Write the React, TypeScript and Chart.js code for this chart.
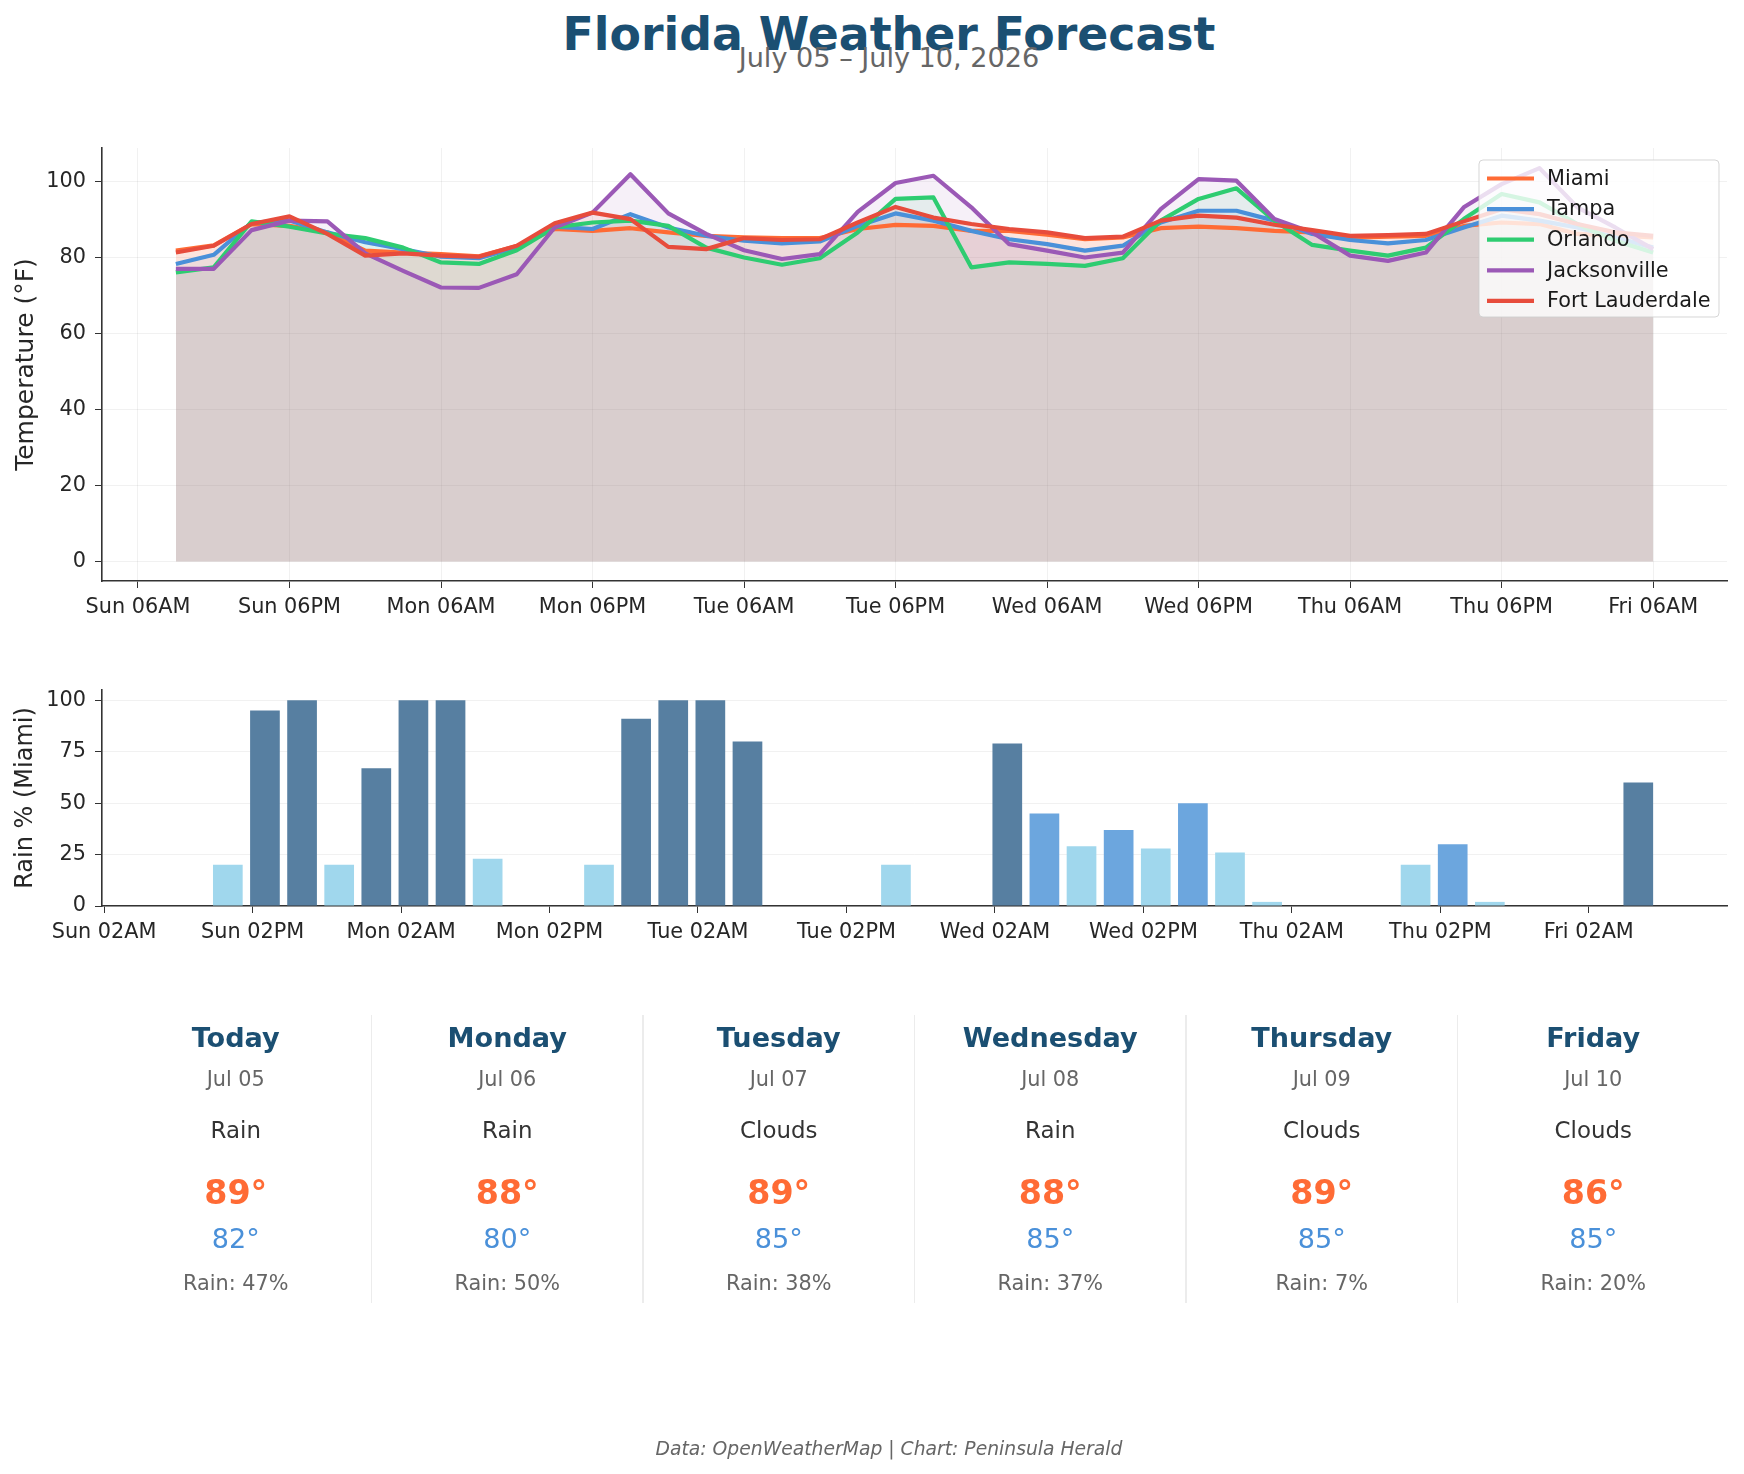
import React, { useEffect, useRef } from 'react';
import { Chart, registerables } from 'chart.js';
Chart.register(...registerables);

const FONT = '"DejaVu Sans", Verdana, sans-serif';

// hours since Sunday 00:00 for each 3-hourly forecast step
const forecastHours = [9, 12, 15, 18, 21, 24, 27, 30, 33, 36, 39, 42, 45, 48, 51, 54, 57, 60, 63, 66, 69, 72, 75, 78, 81, 84, 87, 90, 93, 96, 99, 102, 105, 108, 111, 114, 117, 120, 123, 126];

const tempTickHours = [6, 18, 30, 42, 54, 66, 78, 90, 102, 114, 126];
const tempTickLabels = ['Sun 06AM', 'Sun 06PM', 'Mon 06AM', 'Mon 06PM', 'Tue 06AM', 'Tue 06PM', 'Wed 06AM', 'Wed 06PM', 'Thu 06AM', 'Thu 06PM', 'Fri 06AM'];
const rainTickHours = [2, 14, 26, 38, 50, 62, 74, 86, 98, 110, 122];
const rainTickLabels = ['Sun 02AM', 'Sun 02PM', 'Mon 02AM', 'Mon 02PM', 'Tue 02AM', 'Tue 02PM', 'Wed 02AM', 'Wed 02PM', 'Thu 02AM', 'Thu 02PM', 'Fri 02AM'];
const tempTicks = [0, 20, 40, 60, 80, 100];
const rainTicks = [0, 25, 50, 75, 100];

const cities = ['Miami', 'Tampa', 'Orlando', 'Jacksonville', 'Fort Lauderdale'];
const cityColors = ['#FF6B35', '#4A90D9', '#2ECC71', '#9B59B6', '#E74C3C'];

const miamiTemp = [81.8, 83.2, 88.8, 88.3, 86.6, 81.8, 81.3, 80.9, 80.3, 83.0, 87.5, 87.0, 87.7, 86.6, 85.7, 85.3, 85.1, 85.1, 87.5, 88.6, 88.3, 87.0, 87.0, 86.0, 84.8, 85.3, 87.7, 88.1, 87.7, 87.0, 86.6, 85.2, 85.5, 85.7, 88.3, 89.2, 88.8, 86.2, 85.8, 85.3];
const tampaTemp = [78.3, 80.7, 89.2, 89.7, 86.6, 84.0, 82.2, 80.2, 79.8, 82.6, 88.1, 87.5, 91.4, 87.9, 85.7, 84.4, 83.7, 84.2, 88.3, 91.6, 89.7, 87.0, 84.8, 83.5, 81.8, 83.1, 89.2, 92.3, 92.3, 89.7, 86.2, 84.6, 83.7, 84.6, 87.9, 91.0, 89.7, 87.9, 85.3, 82.6];
const orlandoTemp = [76.1, 77.4, 89.5, 88.1, 86.3, 85.1, 82.6, 78.7, 78.3, 81.9, 87.9, 89.2, 89.7, 88.3, 82.6, 80.0, 78.1, 79.8, 86.6, 95.4, 95.8, 77.4, 78.7, 78.3, 77.8, 79.8, 89.7, 95.4, 98.2, 89.7, 83.3, 81.8, 80.5, 82.6, 90.1, 96.7, 94.5, 88.8, 84.4, 81.3];
const jacksonvilleTemp = [77.0, 77.0, 87.2, 89.7, 89.5, 81.1, 76.5, 72.1, 72.0, 75.6, 87.9, 91.8, 101.9, 91.6, 86.2, 81.9, 79.6, 80.9, 92.0, 99.6, 101.5, 93.2, 83.5, 81.8, 80.0, 81.3, 92.7, 100.6, 100.2, 90.1, 86.6, 80.5, 79.1, 81.3, 93.2, 99.3, 103.5, 93.2, 87.9, 82.2];
const fortLauderdaleTemp = [81.3, 83.1, 88.8, 90.8, 86.2, 80.5, 81.1, 80.5, 80.2, 83.1, 89.0, 91.8, 90.1, 82.8, 82.2, 85.1, 84.6, 84.8, 89.2, 93.3, 90.5, 88.8, 87.5, 86.6, 85.1, 85.5, 89.7, 91.0, 90.5, 88.6, 87.2, 85.7, 85.9, 86.2, 89.5, 92.7, 91.4, 88.8, 86.6, 85.7];
const cityTemps = [miamiTemp, tampaTemp, orlandoTemp, jacksonvilleTemp, fortLauderdaleTemp];

const miamiRain = [0, 20, 95, 100, 20, 67, 100, 100, 23, 0, 0, 20, 91, 100, 100, 80, 0, 0, 0, 20, 0, 0, 79, 45, 29, 37, 28, 50, 26, 2, 0, 0, 0, 20, 30, 2, 0, 0, 0, 60];

const dayNames = ['Today', 'Monday', 'Tuesday', 'Wednesday', 'Thursday', 'Friday'];
const dayDates = ['Jul 05', 'Jul 06', 'Jul 07', 'Jul 08', 'Jul 09', 'Jul 10'];
const dayConditions = ['Rain', 'Rain', 'Clouds', 'Rain', 'Clouds', 'Clouds'];
const dayHighs = [89, 88, 89, 88, 89, 86];
const dayLows = [82, 80, 85, 85, 85, 85];
const dayRain = [47, 50, 38, 37, 7, 20];

const hexToRgba = (hex: string, a: number) => {
  const n = parseInt(hex.slice(1), 16);
  return `rgba(${(n >> 16) & 255},${(n >> 8) & 255},${n & 255},${a})`;
};

const rainColor = (v: number) => (v >= 60 ? '#577FA1' : v >= 30 ? '#6CA6DE' : '#A0D7ED');

const TICK_COLOR = '#262626';
const GRID_COLOR = 'rgba(0,0,0,0.055)';
const TICK_SIZE = 20.8;
const LINE_W = 4.2;

const boxLegend = {
  id: 'boxLegend',
  afterDatasetsDraw(chart: any) {
    const { ctx, chartArea } = chart;
    const w = 240;
    const h = 157;
    const left = chartArea.right - 8 - w;
    const top = chartArea.top + 12;
    ctx.save();
    ctx.beginPath();
    const r = 4;
    ctx.moveTo(left + r, top);
    ctx.arcTo(left + w, top, left + w, top + h, r);
    ctx.arcTo(left + w, top + h, left, top + h, r);
    ctx.arcTo(left, top + h, left, top, r);
    ctx.arcTo(left, top, left + w, top, r);
    ctx.closePath();
    ctx.fillStyle = 'rgba(255,255,255,0.8)';
    ctx.fill();
    ctx.strokeStyle = 'rgba(204,204,204,0.8)';
    ctx.lineWidth = 1;
    ctx.stroke();
    cities.forEach((name, i) => {
      const y = top + 18.5 + i * 30.6;
      ctx.beginPath();
      ctx.moveTo(left + 8, y);
      ctx.lineTo(left + 55, y);
      ctx.strokeStyle = cityColors[i];
      ctx.lineWidth = LINE_W;
      ctx.stroke();
      ctx.fillStyle = '#1a1a1a';
      ctx.font = `${TICK_SIZE}px ${FONT}`;
      ctx.textBaseline = 'middle';
      ctx.textAlign = 'left';
      ctx.fillText(name, left + 68, y + 1);
    });
    ctx.restore();
  },
};

export default function App() {
  const tempRef = useRef<HTMLCanvasElement>(null);
  const rainRef = useRef<HTMLCanvasElement>(null);

  useEffect(() => {
    Chart.defaults.font.family = FONT;
    const tempChart = new Chart(tempRef.current as HTMLCanvasElement, {
      type: 'line',
      data: {
        datasets: cities.map((name, ci) => ({
          label: name,
          data: forecastHours.map((h, i) => ({ x: h, y: cityTemps[ci][i] })),
          borderColor: cityColors[ci],
          backgroundColor: hexToRgba(cityColors[ci], 0.09),
          borderWidth: LINE_W,
          pointRadius: 0,
          tension: 0,
          fill: 'origin',
          borderJoinStyle: 'round',
          order: cities.length - ci,
        })),
      },
      options: {
        animation: false,
        responsive: false,
        devicePixelRatio: 1,
        layout: { padding: { top: 28, right: 17, left: 0, bottom: 0 } },
        plugins: {
          legend: { display: false },
          tooltip: { enabled: false },
          filler: { drawTime: 'beforeDatasetsDraw' },
        },
        scales: {
          x: {
            type: 'linear',
            min: 3.15,
            max: 131.85,
            afterBuildTicks: (s: any) => {
              s.ticks = tempTickHours.map((v) => ({ value: v }));
            },
            afterFit: (s: any) => {
              s.height = 59;
            },
            ticks: {
              autoSkip: false,
              maxRotation: 0,
              padding: 7,
              color: TICK_COLOR,
              font: { size: TICK_SIZE, family: FONT },
              callback: (v: any) => tempTickLabels[tempTickHours.indexOf(Number(v))],
            },
            grid: { color: GRID_COLOR, tickColor: '#333', tickLength: 7, lineWidth: 1 },
            border: { color: '#333', width: 1.6 },
          },
          y: {
            min: -5.1,
            max: 108.8,
            afterBuildTicks: (s: any) => {
              s.ticks = tempTicks.map((v) => ({ value: v }));
            },
            afterFit: (s: any) => {
              s.width = 102;
            },
            ticks: {
              padding: 9,
              color: TICK_COLOR,
              font: { size: TICK_SIZE, family: FONT },
              callback: (v: any) => String(v),
            },
            grid: { color: GRID_COLOR, tickColor: '#333', tickLength: 7, lineWidth: 1 },
            border: { color: '#333', width: 1.6 },
            title: {
              display: true,
              text: 'Temperature (°F)',
              color: TICK_COLOR,
              font: { size: 25, family: FONT },
              padding: { top: 11, bottom: 0 },
            },
          },
        },
      },
      plugins: [boxLegend],
    } as any);

    const rainChart = new Chart(rainRef.current as HTMLCanvasElement, {
      type: 'bar',
      data: {
        datasets: [
          {
            label: 'Rain % (Miami)',
            data: forecastHours.map((h, i) => ({ x: h, y: miamiRain[i] })),
            backgroundColor: miamiRain.map(rainColor),
            borderWidth: 0,
            barPercentage: 0.8,
            categoryPercentage: 1,
          },
        ],
      },
      options: {
        animation: false,
        responsive: false,
        devicePixelRatio: 1,
        layout: { padding: { top: 30, right: 17, left: 0, bottom: 0 } },
        plugins: { legend: { display: false }, tooltip: { enabled: false } },
        scales: {
          x: {
            type: 'linear',
            offset: false,
            min: 1.83,
            max: 133.17,
            afterBuildTicks: (s: any) => {
              s.ticks = rainTickHours.map((v) => ({ value: v }));
            },
            afterFit: (s: any) => {
              s.height = 54;
            },
            ticks: {
              autoSkip: false,
              maxRotation: 0,
              padding: 7,
              color: TICK_COLOR,
              font: { size: TICK_SIZE, family: FONT },
              callback: (v: any) => rainTickLabels[rainTickHours.indexOf(Number(v))],
            },
            grid: { offset: false, drawOnChartArea: false, tickColor: '#333', tickLength: 7 },
            border: { color: '#333', width: 1.6 },
          },
          y: {
            min: 0,
            max: 105,
            afterBuildTicks: (s: any) => {
              s.ticks = rainTicks.map((v) => ({ value: v }));
            },
            afterFit: (s: any) => {
              s.width = 102;
            },
            ticks: {
              padding: 9,
              color: TICK_COLOR,
              font: { size: TICK_SIZE, family: FONT },
              callback: (v: any) => String(v),
            },
            grid: { color: GRID_COLOR, tickColor: '#333', tickLength: 7, lineWidth: 1 },
            border: { color: '#333', width: 1.6 },
            title: {
              display: true,
              text: 'Rain % (Miami)',
              color: TICK_COLOR,
              font: { size: 24, family: FONT },
              padding: { top: 11, bottom: 0 },
            },
          },
        },
      },
    } as any);

    return () => {
      tempChart.destroy();
      rainChart.destroy();
    };
  }, []);

  const colW = 271.5;
  const colLeft = 100;
  const txt = (top: number, size: number, color: string, bold = false, italic = false): React.CSSProperties => ({
    position: 'absolute',
    left: 0,
    width: '100%',
    top,
    fontSize: size,
    lineHeight: `${size}px`,
    color,
    fontWeight: bold ? 'bold' : 'normal',
    fontStyle: italic ? 'italic' : 'normal',
    textAlign: 'center',
    whiteSpace: 'nowrap',
  });

  return (
    <div
      style={{
        position: 'absolute',
        left: 0,
        top: 0,
        width: 1744,
        height: 1474,
        overflow: 'hidden',
        background: '#ffffff',
        fontFamily: FONT,
      }}
    >
      <div style={{ position: 'absolute', left: 0, width: 1778, top: 0, height: 100 }}>
        <div style={txt(12, 45.8, '#1B4F72', true)}>Florida Weather Forecast</div>
        <div style={txt(44, 27.1, '#666666')}>July 05 – July 10, 2026</div>
      </div>
      <canvas
        ref={tempRef}
        width={1744}
        height={520}
        style={{ position: 'absolute', left: 0, top: 120, width: 1744, height: 520 }}
      />
      <canvas
        ref={rainRef}
        width={1744}
        height={300}
        style={{ position: 'absolute', left: 0, top: 660, width: 1744, height: 300 }}
      />
      {dayNames.map((d, k) => (
        <div
          key={d}
          style={{ position: 'absolute', left: colLeft + k * colW, width: colW, top: 0, height: 1474 }}
        >
          {k > 0 && (
            <div
              style={{
                position: 'absolute',
                left: -1,
                top: 1015,
                width: 1.5,
                height: 288,
                background: '#ececec',
              }}
            />
          )}
          <div style={txt(1024, 27.1, '#1B4F72', true)}>{d}</div>
          <div style={txt(1069, 20.8, '#666666')}>{dayDates[k]}</div>
          <div style={txt(1119, 22.9, '#333333')}>{dayConditions[k]}</div>
          <div style={txt(1176, 33.3, '#FF6B35', true)}>{`${dayHighs[k]}°`}</div>
          <div style={txt(1225, 27.1, '#4A90D9')}>{`${dayLows[k]}°`}</div>
          <div style={txt(1273, 20.8, '#666666')}>{`Rain: ${dayRain[k]}%`}</div>
        </div>
      ))}
      <div style={{ position: 'absolute', left: 0, width: 1778, top: 0, height: 1474 }}>
        <div style={txt(1440, 18.75, '#666666', false, true)}>
          Data: OpenWeatherMap | Chart: Peninsula Herald
        </div>
      </div>
    </div>
  );
}
